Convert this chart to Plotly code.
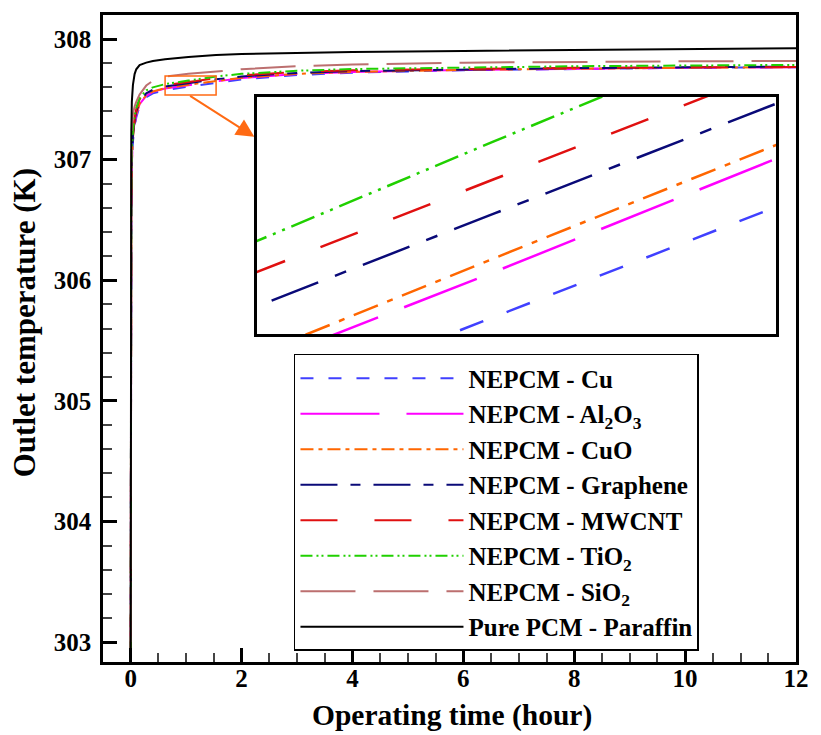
import plotly.graph_objects as go

# ---------------- data ----------------
time_h = [0, 0.003, 0.01, 0.02, 0.04, 0.07, 0.1, 0.16, 0.28, 0.4,
          0.62, 1.04, 1.54, 2, 3, 4, 6, 8, 10, 12]

cu = [302.90, 304.90, 306.50, 306.95, 307.15, 307.27, 307.35, 307.445, 307.518, 307.550,
      307.578, 307.605, 307.637, 307.665, 307.702, 307.722, 307.742, 307.754, 307.762, 307.767]
al2o3 = [302.90, 304.95, 306.55, 306.97, 307.17, 307.29, 307.37, 307.46, 307.530, 307.563,
         307.591, 307.618, 307.651, 307.677, 307.710, 307.727, 307.744, 307.755, 307.762, 307.767]
cuo = [302.90, 304.95, 306.55, 306.98, 307.18, 307.30, 307.38, 307.465, 307.535, 307.566,
       307.594, 307.622, 307.655, 307.680, 307.712, 307.728, 307.745, 307.756, 307.763, 307.768]
graphene = [302.90, 305.00, 306.60, 307.00, 307.20, 307.32, 307.40, 307.48, 307.55, 307.580,
            307.608, 307.635, 307.667, 307.690, 307.720, 307.735, 307.750, 307.760, 307.766, 307.772]
mwcnt = [302.92, 305.05, 306.65, 307.05, 307.23, 307.34, 307.42, 307.50, 307.565, 307.592,
         307.618, 307.645, 307.677, 307.700, 307.728, 307.742, 307.755, 307.762, 307.766, 307.768]
tio2 = [302.95, 305.10, 306.70, 307.08, 307.25, 307.36, 307.43, 307.51, 307.575, 307.600,
        307.627, 307.656, 307.690, 307.712, 307.738, 307.752, 307.766, 307.775, 307.781, 307.786]
sio2 = [303.00, 305.30, 306.90, 307.25, 307.38, 307.44, 307.48, 307.54, 307.615, 307.655,
        307.690, 307.712, 307.735, 307.750, 307.775, 307.790, 307.805, 307.812, 307.816, 307.819]
pure = [302.95, 306.00, 307.20, 307.48, 307.62, 307.71, 307.75, 307.785, 307.805, 307.818,
        307.833, 307.852, 307.868, 307.876, 307.886, 307.893, 307.902, 307.908, 307.916, 307.925]

names = ["NEPCM - Cu", "NEPCM - Al<sub>2</sub>O<sub>3</sub>", "NEPCM - CuO",
         "NEPCM - Graphene", "NEPCM - MWCNT", "NEPCM - TiO<sub>2</sub>",
         "NEPCM - SiO<sub>2</sub>", "Pure PCM - Paraffin"]
series = [cu, al2o3, cuo, graphene, mwcnt, tio2, sio2, pure]
colors = ["#4040ff", "#ff00ff", "#ff6600", "#0a0a78", "#e01010", "#20d000", "#bc6f6f", "#000000"]
dashes = ["13px,15px", "79px,27px", "13px,5px,4px,5px", "37px,13px,10px,13px",
          "37px,37px", "12px,4px,2px,3px,2px,4px", "55px,18px", "solid"]
inset_dashes = ["25px,25px", "78px,28px", "26px,10px,6px,10px", "50px,18px,12px,18px",
                "40px,38px", "25px,7px,3px,7px,3px,7px", "55px,18px", "solid"]

x_ticks = [0, 2, 4, 6, 8, 10, 12]
y_ticks = [303, 304, 305, 306, 307, 308]

# zoom window of the inset
inset_x = [0.62, 1.54]
inset_y = [307.600, 307.669]
rect_x = [0.62, 1.54]
rect_y = [307.537, 307.694]

FONT = "serif"

fig = go.Figure()

for nm, ys, c, d in zip(names, series, colors, dashes):
    fig.add_trace(go.Scatter(x=time_h, y=ys, name="<b>" + nm + "</b>", mode="lines",
                             line=dict(color=c, width=2, dash=d)))

# inset traces (same data, zoomed axes)
for nm, ys, c, d in zip(names, series, colors, inset_dashes):
    fig.add_trace(go.Scatter(x=time_h, y=ys, name=nm, mode="lines", showlegend=False,
                             xaxis="x2", yaxis="y2",
                             line=dict(color=c, width=2.5, dash=d)))

W, H = 821, 735
ml, mr, mt, mb = 103, 14, 13, 73
pw, ph = W - ml - mr, H - mt - mb


def px_x(p):
    return (p - ml) / pw


def px_y(p):
    return (H - mb - p) / ph


tickfont = dict(family=FONT, size=25, color="black", weight="bold")

fig.update_layout(
    width=W, height=H,
    margin=dict(l=ml, r=mr, t=mt, b=mb),
    paper_bgcolor="white", plot_bgcolor="white",
    showlegend=True,
    xaxis=dict(range=[-0.5, 12], tickvals=x_ticks, ticks="inside", ticklen=14, tickwidth=2.5,
               tickcolor="black", showline=True, linewidth=2.5, linecolor="black", mirror=True,
               showgrid=False, zeroline=False, tickfont=tickfont, ticklabelstandoff=-8,
               minor=dict(dtick=0.5, ticks="inside", ticklen=9, tickwidth=1.5, tickcolor="#444",
                          showgrid=False)),
    yaxis=dict(range=[302.835, 308.2], tickvals=y_ticks, ticks="inside", ticklen=14, tickwidth=2.5,
               tickcolor="black", showline=True, linewidth=2.5, linecolor="black", mirror=True,
               showgrid=False, zeroline=False, tickfont=tickfont, ticklabelstandoff=4,
               minor=dict(dtick=0.2, ticks="inside", ticklen=9, tickwidth=1.5, tickcolor="#444",
                          showgrid=False)),
    xaxis2=dict(domain=[px_x(259), px_x(787)], anchor="y2", range=inset_x,
                showline=True, mirror=True, linewidth=2.5, linecolor="black",
                showticklabels=False, ticks="", showgrid=False, zeroline=False),
    yaxis2=dict(domain=[px_y(333), px_y(95)], anchor="x2", range=inset_y,
                showline=True, mirror=True, linewidth=2.5, linecolor="black",
                showticklabels=False, ticks="", showgrid=False, zeroline=False),
    legend=dict(x=px_x(297), y=px_y(353), xanchor="left", yanchor="top",
                bgcolor="white", bordercolor="black", borderwidth=1.5,
                font=dict(family=FONT, size=25, color="black"),
                itemwidth=163, tracegroupgap=0),
    annotations=[
        dict(text="Operating time (hour)", xref="paper", yref="paper",
             x=px_x(458), y=px_y(716), xanchor="center", yanchor="middle", showarrow=False,
             font=dict(family=FONT, size=29.5, color="black", weight="bold")),
        dict(text="Outlet temperature (K)", xref="paper", yref="paper",
             x=px_x(23), y=px_y(322), xanchor="center", yanchor="middle",
             showarrow=False, textangle=-90,
             font=dict(family=FONT, size=31, color="black", weight="bold")),
        dict(text="", x=2.23, y=307.19, xref="x", yref="y",
             ax=1.044, ay=307.537, axref="x", ayref="y",
             showarrow=True, arrowhead=2, arrowsize=1.8, arrowwidth=2,
             arrowcolor="#ff6a13", standoff=0),
    ],
    shapes=[
        dict(type="rect", xref="x", yref="y", x0=rect_x[0], x1=rect_x[1],
             y0=rect_y[0], y1=rect_y[1], line=dict(color="#ff6a13", width=1.5)),
    ],
)

fig.write_html("out.html")
